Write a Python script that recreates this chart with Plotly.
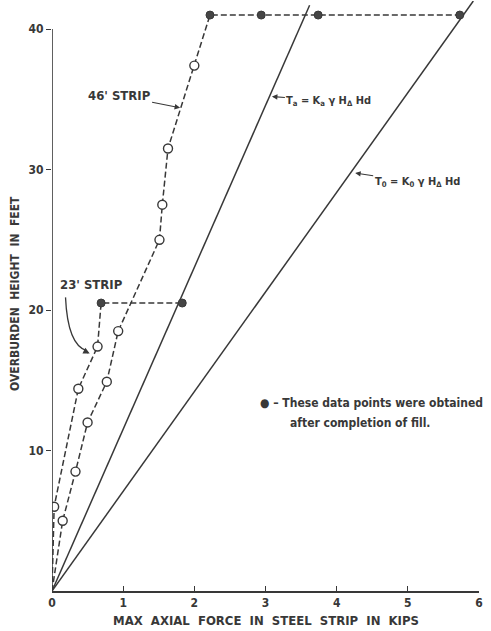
import plotly.graph_objects as go

# ---- data ----
# 46' strip (hollow = during filling, filled = after completion of fill)
s46_x = [0, 0.15, 0.33, 0.50, 0.77, 0.93, 1.51, 1.55, 1.63, 2.00]
s46_y = [0, 5.0, 8.5, 12.0, 14.9, 18.5, 25.0, 27.5, 31.5, 37.4]
s46_fill_x = [2.22, 2.94, 3.74, 5.73]
s46_fill_y = [41.0, 41.0, 41.0, 41.0]

# 23' strip
s23_x = [0, 0.03, 0.37, 0.64]
s23_y = [0, 6.0, 14.4, 17.4]
s23_fill_x = [0.69, 1.83]
s23_fill_y = [20.5, 20.5]

# theoretical lines
ta_x = [0, 3.62]
ta_y = [0, 41.7]
t0_x = [0, 5.92]
t0_y = [0, 42.0]

x_ticks = [0, 1, 2, 3, 4, 5, 6]
y_ticks = [10, 20, 30, 40]

INK = "#383838"
FONT = "DejaVu Sans Condensed, Liberation Sans Narrow, DejaVu Sans, sans-serif"


def f(size):
    return dict(family=FONT, size=size, color=INK, weight="bold")


fig = go.Figure()

# theory lines
fig.add_trace(go.Scatter(x=ta_x, y=ta_y, mode="lines",
                         line=dict(color=INK, width=1.5), showlegend=False))
fig.add_trace(go.Scatter(x=t0_x, y=t0_y, mode="lines",
                         line=dict(color=INK, width=1.5), showlegend=False))

# dashed curves
fig.add_trace(go.Scatter(x=s46_x + s46_fill_x, y=s46_y + s46_fill_y, mode="lines",
                         line=dict(color=INK, width=1.5, dash="6px,3px"), showlegend=False))
fig.add_trace(go.Scatter(x=s23_x + s23_fill_x, y=s23_y + s23_fill_y, mode="lines",
                         line=dict(color=INK, width=1.5, dash="6px,3px"), showlegend=False))

# hollow markers
fig.add_trace(go.Scatter(x=s46_x[1:] + s23_x[1:], y=s46_y[1:] + s23_y[1:], mode="markers",
                         marker=dict(symbol="circle", size=9, color="white",
                                     line=dict(color=INK, width=1.4)),
                         showlegend=False))
# filled markers
fig.add_trace(go.Scatter(x=s46_fill_x + s23_fill_x, y=s46_fill_y + s23_fill_y, mode="markers",
                         marker=dict(symbol="circle", size=8, color="#454545",
                                     line=dict(color=INK, width=1)),
                         showlegend=False))

# y axis line only up to 40
fig.add_shape(type="line", x0=0, x1=0, y0=0, y1=y_ticks[-1], xref="x", yref="y",
              line=dict(color=INK, width=1.6))

# 23' strip curved leader
fig.add_shape(type="path", path="M 0.19,20.9 Q 0.22,17.5 0.49,17.1",
              xref="x", yref="y", line=dict(color=INK, width=1.3))

anns = []
anns.append(dict(x=1.80, y=34.4, ax=-61, ay=-12, text="46' STRIP", showarrow=True,
                 arrowhead=2, arrowsize=1, arrowwidth=1.1, arrowcolor=INK, font=f(13)))
anns.append(dict(x=0.55, y=21.8, text="23' STRIP", showarrow=False, font=f(13),
                 xanchor="center", yanchor="middle"))
anns.append(dict(x=0.53, y=16.9, ax=-6, ay=-3, text="", showarrow=True,
                 arrowhead=2, arrowsize=1, arrowwidth=1.3, arrowcolor=INK))
anns.append(dict(x=3.09, y=35.2, ax=57, ay=4,
                 text="T<sub>a</sub> = K<sub>a</sub> γ H<sub>Δ</sub> Hd", showarrow=True,
                 arrowhead=2, arrowsize=1, arrowwidth=1.1, arrowcolor=INK, font=f(11)))
anns.append(dict(x=4.26, y=29.75, ax=62, ay=9,
                 text="T<sub>0</sub> = K<sub>0</sub> γ H<sub>Δ</sub> Hd", showarrow=True,
                 arrowhead=2, arrowsize=1, arrowwidth=1.1, arrowcolor=INK, font=f(11)))
anns.append(dict(xref="paper", yref="paper", x=0.482, y=0.319, xanchor="left",
                 yanchor="middle", text="● – These data points were obtained",
                 showarrow=False, font=f(12)))
anns.append(dict(xref="paper", yref="paper", x=0.552, y=0.285, xanchor="left",
                 yanchor="middle", text="after completion of fill.", showarrow=False,
                 font=f(12)))
anns.append(dict(xref="paper", yref="paper", x=-0.087, y=0.505, textangle=-90,
                 xanchor="center", yanchor="middle",
                 text="OVERBURDEN  HEIGHT  IN  FEET", showarrow=False, font=f(12)))
anns.append(dict(xref="paper", yref="paper", x=0.5, y=-0.0508,
                 xanchor="center", yanchor="middle",
                 text="MAX  AXIAL  FORCE  IN  STEEL  STRIP  IN  KIPS", showarrow=False,
                 font=f(13)))

fig.update_layout(
    width=491, height=631,
    margin=dict(l=52, r=12, t=1, b=40),
    paper_bgcolor="white", plot_bgcolor="white",
    annotations=anns,
    xaxis=dict(range=[0, 6], showline=True, linecolor=INK, linewidth=1.6,
               showgrid=False, zeroline=False, ticks="inside", ticklen=5,
               tickcolor=INK, tickvals=x_ticks, ticktext=[str(v) for v in x_ticks],
               tickfont=f(12)),
    yaxis=dict(range=[0, 42], showline=False, showgrid=False, zeroline=False,
               ticks="outside", ticklen=5, tickcolor=INK, tickvals=y_ticks,
               ticktext=[str(v) for v in y_ticks], tickfont=f(12)),
)

fig.write_html("out.html")
